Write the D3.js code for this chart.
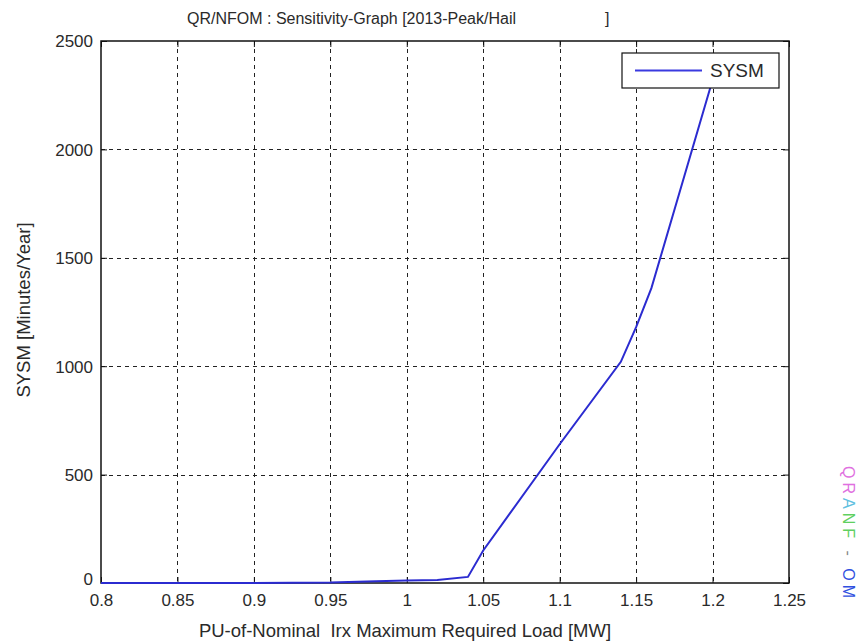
<!DOCTYPE html>
<html>
<head>
<meta charset="utf-8">
<script src="https://cdn.jsdelivr.net/npm/d3@7"></script>
<style>
  body { margin: 0; background: #fff; }
  svg { display: block; font-family: "Liberation Sans", Arial, sans-serif; }
</style>
</head>
<body>
<div id="chart"></div>
<script>
// data
const loadPU = [0.8, 0.85, 0.9, 0.95, 0.98, 1.0, 1.02, 1.04, 1.05, 1.1, 1.14, 1.15, 1.16, 1.2];
const sysm = [0, 0, 0, 2, 8, 12, 14, 28, 150, 640, 1020, 1180, 1360, 2320];
const xTicks = [0.8, 0.85, 0.9, 0.95, 1, 1.05, 1.1, 1.15, 1.2, 1.25];
const yTicks = [0, 500, 1000, 1500, 2000, 2500];
const seriesName = 'SYSM';
const watermark = [
    { ch: 'Q', color: '#e070e0' }, { ch: 'R', color: '#e070e0' },
    { ch: 'A', color: '#60c0e0' }, { ch: 'N', color: '#60d060' },
    { ch: 'F', color: '#60d060' }, { ch: ' ', color: '#888' },
    { ch: '-', color: '#888' }, { ch: ' ', color: '#888' },
    { ch: 'O', color: '#3050e0' }, { ch: 'M', color: '#3050e0' }
];

const width = 859;
const height = 643;
const plotL = 101, plotR = 789, plotT = 41, plotB = 583;

const svg = d3.select('#chart').append('svg')
    .attr('width', width)
    .attr('height', height);

const x = d3.scaleLinear().domain([0.8, 1.25]).range([plotL, plotR]);
const y = d3.scaleLinear().domain([0, 2500]).range([plotB, plotT]);

const textColor = '#2a2a2a';

// grid
const grid = svg.append('g').attr('stroke', '#222').attr('stroke-width', 1)
    .attr('stroke-dasharray', '4,4');
grid.selectAll('.gx').data(xTicks.slice(1, -1)).enter().append('line')
    .attr('x1', d => Math.round(x(d)) + 0.5).attr('x2', d => Math.round(x(d)) + 0.5)
    .attr('y1', plotT).attr('y2', plotB);
grid.selectAll('.gy').data(yTicks.slice(1, -1)).enter().append('line')
    .attr('y1', d => Math.round(y(d)) + 0.5).attr('y2', d => Math.round(y(d)) + 0.5)
    .attr('x1', plotL).attr('x2', plotR);

// axes, ticks inside like matlab
const xAxis = svg.append('g').attr('transform', `translate(0,${plotB})`)
    .call(d3.axisBottom(x).tickValues(xTicks).tickSize(-6).tickPadding(11).tickFormat(d3.format('')));
const xTop = svg.append('g').attr('transform', `translate(0,${plotT})`)
    .call(d3.axisTop(x).tickValues(xTicks).tickSize(-6).tickFormat(''));
const yAxis = svg.append('g').attr('transform', `translate(${plotL},0)`)
    .call(d3.axisLeft(y).tickValues(yTicks).tickSize(-6).tickPadding(8).tickFormat(d3.format('d')));
const yRight = svg.append('g').attr('transform', `translate(${plotR},0)`)
    .call(d3.axisRight(y).tickValues(yTicks).tickSize(-6).tickFormat(''));

[xAxis, xTop, yAxis, yRight].forEach(a => {
    a.select('.domain').remove();
    a.selectAll('line').attr('stroke', '#111');
    a.selectAll('text').attr('fill', textColor).style('font-size', '17px');
});
yAxis.selectAll('text').attr('dy', '0.35em');
yAxis.selectAll('.tick').filter(d => d === 0).select('text').attr('dy', '0.1em');

svg.append('rect')
    .attr('x', plotL).attr('y', plotT)
    .attr('width', plotR - plotL).attr('height', plotB - plotT)
    .attr('fill', 'none').attr('stroke', '#111').attr('stroke-width', 1.5);

// series
const line = d3.line()
    .x((d, i) => x(loadPU[i]))
    .y(d => y(d));

svg.append('path')
    .datum(sysm)
    .attr('fill', 'none')
    .attr('stroke', '#2b2bd0')
    .attr('stroke-width', 2)
    .attr('d', line);

// legend
const lg = svg.append('g').attr('transform', 'translate(622,53)');
lg.append('rect').attr('width', 157).attr('height', 35)
    .attr('fill', '#fff').attr('stroke', '#111').attr('stroke-width', 1.2);
lg.append('line').attr('x1', 13).attr('x2', 80).attr('y1', 17.5).attr('y2', 17.5)
    .attr('stroke', '#3a3ae0').attr('stroke-width', 2);
lg.append('text').attr('x', 88).attr('y', 24).text(seriesName)
    .attr('fill', textColor).style('font-size', '19px');

// titles
svg.append('text')
    .attr('x', 187).attr('y', 24)
    .attr('fill', textColor).style('font-size', '16px')
    .text('QR/NFOM : Sensitivity-Graph [2013-Peak/Hail');
svg.append('text')
    .attr('x', 605).attr('y', 24)
    .attr('fill', textColor).style('font-size', '16px')
    .text(']');

svg.append('text')
    .attr('x', 405).attr('y', 637)
    .attr('text-anchor', 'middle')
    .attr('fill', textColor).style('font-size', '18.5px')
    .style('white-space', 'pre')
    .text('PU-of-Nominal  Irx Maximum Required Load [MW]');

svg.append('text')
    .attr('transform', 'translate(30,310) rotate(-90)')
    .attr('text-anchor', 'middle')
    .attr('fill', textColor).style('font-size', '18.5px')
    .text('SYSM [Minutes/Year]');

// watermark on the right edge
const wm = svg.append('text')
    .attr('transform', 'translate(843,462) rotate(90)')
    .style('font-size', '16px')
    .style('white-space', 'pre');
wm.selectAll('tspan').data(watermark).enter().append('tspan')
    .attr('fill', d => d.color)
    .attr('dx', 4)
    .text(d => d.ch);
</script>
</body>
</html>
